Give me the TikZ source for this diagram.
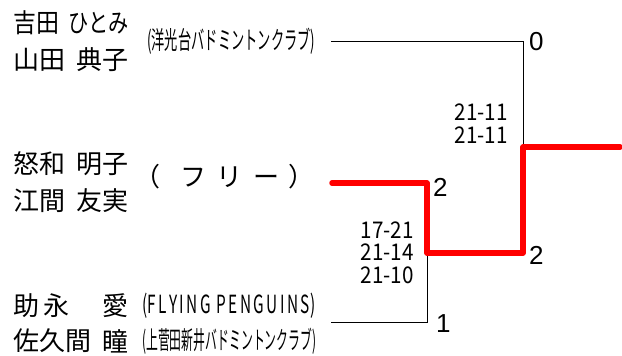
\documentclass[tikz,border=0pt]{standalone}
\usepackage{fontspec}
\usepackage{graphicx}
\setmainfont{Noto Sans CJK JP}
\newfontfamily\numfont{Liberation Sans}
\tikzset{
  nm/.style={inner sep=0pt, font=\fontsize{26}{26}\selectfont},
  club/.style={inner sep=0pt, anchor=west, font=\fontsize{25}{25}\selectfont},
  score/.style={inner sep=0pt, anchor=east, font=\fontsize{23}{23}\selectfont},
  res/.style={inner sep=0pt, anchor=west, font=\numfont\fontsize{26}{26}\selectfont},
  bline/.style={line width=1pt, black},
  win/.style={line width=5.5pt, red, line cap=round, line join=round},
}
\begin{document}
\begin{tikzpicture}[x=1pt,y=-1pt]
\useasboundingbox (0,0) rectangle (622,356);
% names
\node[nm,anchor=west] (n1a) at (13,23) {\resizebox{46pt}{\height}{吉田}};
\node[nm,anchor=east] (n1b) at (129,23) {\resizebox{60pt}{\height}{ひとみ}};
\node[nm,anchor=west] (n2a) at (13,60) {山田};
\node[nm,anchor=east] (n2b) at (129,60) {典子};
\node[nm,anchor=west] (n3a) at (13,164) {怒和};
\node[nm,anchor=east] (n3b) at (129,164) {明子};
\node[nm,anchor=west] (n4a) at (13,201) {江間};
\node[nm,anchor=east] (n4b) at (129,201) {友実};
\node[nm,anchor=west] (n5a) at (13,306) {助\hspace{4pt}永};
\node[nm,anchor=east] (n5b) at (129,306) {愛};
\node[nm,anchor=west] (n6a) at (13,341) {佐久間};
\node[nm,anchor=east] (n6b) at (129,341) {瞳};
% clubs
\node[club] (c1) at (147,41) {\resizebox{168pt}{\height}{(洋光台バドミントンクラブ)}};
\node[club,font=\fontsize{26}{26}\selectfont] (c2) at (134,177) {（\hspace{20pt}フ\hspace{10pt}リ\hspace{11pt}ー\hspace{9pt}）};
\node[club] (c3) at (142,306) {\resizebox{173pt}{\height}{(F\hspace{4pt}L\hspace{4pt}Y\hspace{4pt}I\hspace{4pt}N\hspace{4pt}G\hspace{9pt}P\hspace{4pt}E\hspace{4pt}N\hspace{4pt}G\hspace{4pt}U\hspace{4pt}I\hspace{4pt}N\hspace{4pt}S)}};
\node[club] (c4) at (142,341) {\resizebox{174pt}{\height}{(上菅田新井バドミントンクラブ)}};
% bracket points
\coordinate (a1) at (331,41);
\coordinate (a2) at (523,41);
\coordinate (m) at (523,147);
\coordinate (e) at (620,147);
\coordinate (b1) at (332,183);
\coordinate (b2) at (427,183);
\coordinate (j) at (427,253);
\coordinate (k) at (523,253);
\coordinate (d1) at (331,322);
\coordinate (d2) at (427,322);
\draw[bline] (a1) -- (a2) -- (m);
\draw[bline] (d1) -- (d2) -- (j);
\draw[win] (b1) -- (b2) -- (j) -- (k) -- (m) -- (e);
% scores
\node[score] (s1) at (508,112) {\resizebox{53pt}{\height}{21-11}};
\node[score] (s2) at (508,135) {\resizebox{53pt}{\height}{21-11}};
\node[score] (s3) at (414,230) {\resizebox{53pt}{\height}{17-21}};
\node[score] (s4) at (414,252) {\resizebox{53pt}{\height}{21-14}};
\node[score] (s5) at (414,275) {\resizebox{53pt}{\height}{21-10}};
% results
\node[res] (r1) at (529,42) {0};
\node[res] (r2) at (433,187) {2};
\node[res] (r3) at (529,255) {2};
\node[res] (r4) at (436,324) {1};
\end{tikzpicture}
\end{document}
